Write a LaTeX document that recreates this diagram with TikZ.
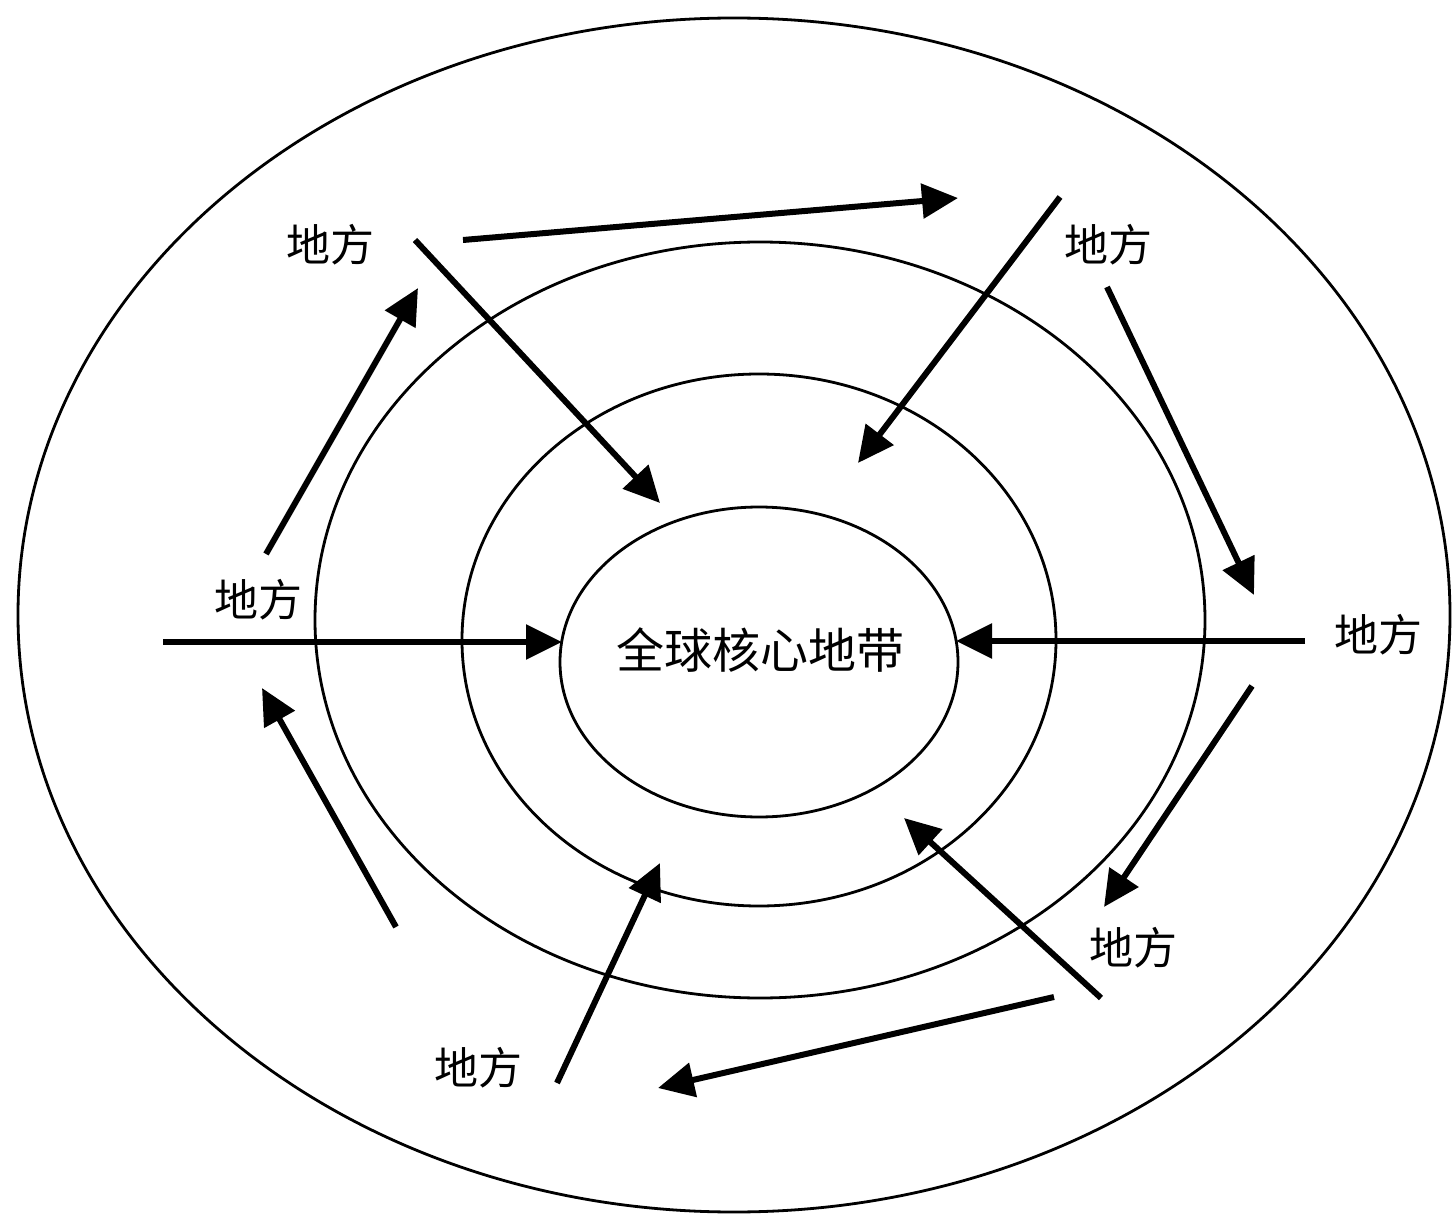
\documentclass[tikz,border=0pt]{standalone}
\usepackage{fontspec}
\newfontfamily\cjk{Noto Sans CJK SC}
\usetikzlibrary{arrows.meta}
\tikzset{
  ring/.style={line width=1.4pt},
  flow/.style={line width=3pt,-{Triangle[length=18pt,width=17pt]}},
  placelabel/.style={font=\cjk\fontsize{22}{22}\selectfont,inner sep=0pt},
}
\newcommand{\difang}[2]{\node[placelabel] (#1) at (#2) {地方};}

\begin{document}
\begin{tikzpicture}[x=0.5pt,y=-0.5pt]
  \useasboundingbox (0,0) rectangle (1452,1214);
  % the four zones
  \draw[ring] (734,615) ellipse [x radius=358pt,y radius=298.5pt];
  \draw[ring] (760,620) ellipse [x radius=222.5pt,y radius=189pt];
  \draw[ring] (759,640) ellipse [x radius=148.5pt,y radius=133pt];
  \draw[ring] (759,662) ellipse [x radius=99.5pt,y radius=77.5pt];
  \node[font=\cjk\fontsize{24}{24}\selectfont,inner sep=0pt] (core) at (760,650) {全球核心地带};
  % places
  \difang{tl}{330,245}
  \difang{tr}{1108,245}
  \difang{lf}{258,600}
  \difang{rt}{1378,635}
  \difang{br}{1133,948}
  \difang{bt}{478,1068}
  % flows
  \coordinate (s1) at (463,240);  \coordinate (e1) at (958,198);
  \coordinate (s2) at (415,240);  \coordinate (e2) at (660,503);
  \coordinate (s3) at (266,554);  \coordinate (e3) at (418,288);
  \coordinate (s4) at (163,642);  \coordinate (e4) at (562,642);
  \coordinate (s5) at (1060,197); \coordinate (e5) at (858,463);
  \coordinate (s6) at (1107,287); \coordinate (e6) at (1254,595);
  \coordinate (s7) at (1305,641); \coordinate (e7) at (956,641);
  \coordinate (s8) at (1252,686); \coordinate (e8) at (1104,907);
  \coordinate (s9) at (1101,998); \coordinate (e9) at (904,818);
  \coordinate (s10) at (1054,997); \coordinate (e10) at (658,1088);
  \coordinate (s11) at (557,1083); \coordinate (e11) at (660,863);
  \coordinate (s12) at (396,927); \coordinate (e12) at (262,688);
  \foreach \i in {1,...,12}
    \draw[flow] (s\i) -- (e\i);
\end{tikzpicture}
\end{document}
